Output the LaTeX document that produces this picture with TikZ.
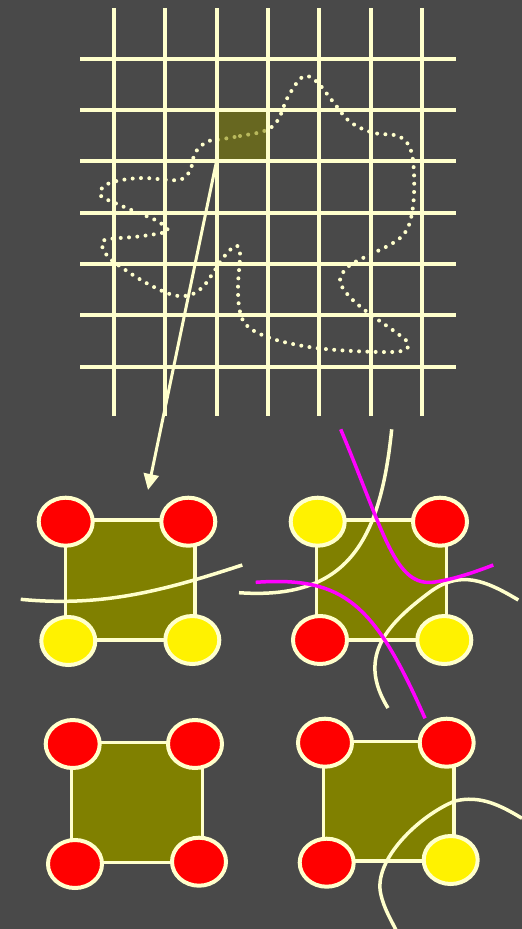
\documentclass[tikz,border=0pt]{standalone}
\usetikzlibrary{shapes.geometric,arrows.meta}
\definecolor{bg}{RGB}{73,73,73}
\definecolor{cream}{RGB}{255,255,204}
\definecolor{oliv}{RGB}{128,128,0}
\definecolor{mag}{RGB}{255,0,255}
\begin{document}
\begin{tikzpicture}[x=1pt,y=-1pt,
  vtx/.style={ellipse,draw=cream,line width=4pt,minimum width=54pt,minimum height=48pt,inner sep=0pt},
  rv/.style={vtx,fill=red},
  yv/.style={vtx,fill=yellow},
  sqbox/.style={fill=oliv,draw=cream,line width=3.5pt,line join=miter},
  gridline/.style={draw=cream,line width=4pt},
  crv/.style={draw=cream,line width=3.5pt},
  mcrv/.style={draw=mag,line width=3.5pt},
  dotted curve/.style={draw=cream,line width=4pt,line cap=round,dash pattern=on 0pt off 8.3pt},
  cellbox/.style={fill=oliv,fill opacity=0.55,minimum width=51.3pt,minimum height=51.3pt,inner sep=0pt,draw=none}]
\fill[bg] (0,0) rectangle (522,929);
\useasboundingbox (0,0) rectangle (522,929);
% dotted contour
\draw[dotted curve] plot[smooth cycle,tension=0.6] coordinates {
 (216.7,140) (240,136) (265,130.7) (278,120) (288,96.7) (303,76.7) (316.7,81.7)
 (333,101.7) (350,121.7) (373,132.7) (398,136) (410,148) (414,173) (413,206.7)
 (406.7,230) (393,243) (363,258) (348,266.7) (340,280) (348,295) (366.7,311.7)
 (395,331.7) (408,343) (403,350.7) (380,352) (336.7,350) (303,346) (270,338)
 (248,326.7) (240,311.7) (238,286.7) (240,253) (235,246) (223,258) (213,273)
 (203,286.7) (190,295) (173,295) (150,285) (128,271.7) (108,256.7) (101.7,243)
 (110,239) (136.7,236.7) (161.7,233) (168,230) (156.7,220.7) (133,210.7) (115,203)
 (101,196) (103,187) (116.7,181) (143,178) (178,180) (190,170.7) (195,153) (206.7,141.7)};
% shaded cell
\node[cellbox] (cell) at (242.3,135.7) {};
% grid
\foreach \x in {114,165.3,216.7,268,319.3,370.7,422}
  \draw[gridline] (\x,8) -- (\x,416);
\foreach \y in {58.7,110,161.3,212.7,264,315.3,366.7}
  \draw[gridline] (80,\y) -- (456,\y);
% arrow
\coordinate (tip) at (148,490);
\draw[draw=cream,line width=3pt,-{Triangle[length=16pt,width=15pt,fill=cream]}] (cell.south west) -- (tip);

% ---- panel A ----
\coordinate (a1) at (65.7,520); \coordinate (a2) at (195,520);
\coordinate (a3) at (195,640); \coordinate (a4) at (65.7,640);
\draw[sqbox] (a1) -- (a2) -- (a3) -- (a4) -- cycle;
\coordinate (ca1) at (20.7,599.3); \coordinate (ca2) at (242.3,565);
\draw[crv] (ca1) .. controls (100,607) and (160,592) .. (ca2);
\node[rv] (atl) at (65.7,521.7) {};
\node[rv] (atr) at (188.3,521.7) {};
\node[yv] (abl) at (68.3,641) {};
\node[yv] (abr) at (192.3,640) {};

% ---- panel B ----
\coordinate (b1) at (316.7,520); \coordinate (b2) at (446.7,520);
\coordinate (b3) at (446.7,640); \coordinate (b4) at (316.7,640);
\draw[sqbox] (b1) -- (b2) -- (b3) -- (b4) -- cycle;
\node[yv] (btl) at (317.7,521.7) {};
\node[rv] (btr) at (440,521.7) {};
\node[rv] (bbl) at (320,640) {};
\node[yv] (bbr) at (444.3,640) {};
\coordinate (cb1) at (391.7,429.3); \coordinate (cb2) at (239,592.7);
\draw[crv] (cb1) .. controls (380,545) and (345,600) .. (cb2);
\coordinate (cb3) at (518.3,600); \coordinate (cb4) at (388,708);
\draw[crv] (cb3) .. controls (485,580) and (460,570) .. (430,592) .. controls (390,622) and (355,655) .. (cb4);
\coordinate (mb1) at (340.7,429.3); \coordinate (mb2) at (493.3,565);
\draw[mcrv] (mb1) .. controls (385,535) and (395,588) .. (435,582) .. controls (455,579) and (475,572) .. (mb2);
\coordinate (mb3) at (255.7,582.3); \coordinate (mb4) at (425,718.3);
\draw[mcrv] (mb3) .. controls (345,576) and (375,605) .. (mb4);

% ---- panel C ----
\coordinate (c1) at (71.7,742.3); \coordinate (c2) at (202.3,742.3);
\coordinate (c3) at (202.3,862.3); \coordinate (c4) at (71.7,862.3);
\draw[sqbox] (c1) -- (c2) -- (c3) -- (c4) -- cycle;
\node[rv] (ctl) at (72.7,744) {};
\node[rv] (ctr) at (195,744) {};
\node[rv] (cbl) at (75,864) {};
\node[rv] (cbr) at (199,861.7) {};

% ---- panel D ----
\coordinate (d1) at (323.3,741.7); \coordinate (d2) at (454,741.7);
\coordinate (d3) at (454,861); \coordinate (d4) at (323.3,861);
\draw[sqbox] (d1) -- (d2) -- (d3) -- (d4) -- cycle;
\node[rv] (dtl) at (325,742.7) {};
\node[rv] (dtr) at (446.7,742.7) {};
\node[rv] (dbl) at (326.7,862.7) {};
\node[yv] (dbr) at (450.7,860) {};
\coordinate (cd1) at (522,818.3); \coordinate (cd2) at (396,930);
\draw[crv] (cd1) .. controls (500,805) and (480,795) .. (455,801) .. controls (420,815) and (372,860) .. (381,895) .. controls (384,908) and (390,918) .. (cd2);
\end{tikzpicture}
\end{document}
